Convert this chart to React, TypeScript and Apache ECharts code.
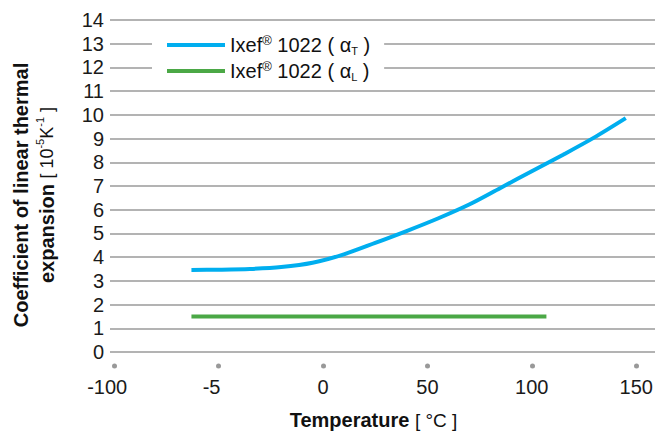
import React, { useEffect, useRef } from "react";
import * as echarts from "echarts";

const tempsT = [-63, -50, -35, -20, -5, 10, 25, 40, 55, 70, 85, 100, 115, 130, 145];
const alphaT = [3.46, 3.47, 3.5, 3.58, 3.76, 4.12, 4.6, 5.1, 5.63, 6.22, 6.92, 7.62, 8.32, 9.05, 9.86];
const tempsL = [-63, 107];
const alphaL = [1.5, 1.5];
const xTickValues = [-100, -50, 0, 50, 100, 150];
const xTickLabels = ["-100", "-5", "0", "50", "100", "150"];
const seriesNames = ["Ixef® 1022 (αT)", "Ixef® 1022 (αL)"];

const FONT = "'Liberation Sans', Arial, Helvetica, sans-serif";

export default function App() {
  const ref = useRef<HTMLDivElement>(null);
  useEffect(() => {
    if (!ref.current) return;
    const chart = echarts.init(ref.current, undefined, { renderer: "svg" });
    const option = {
      animation: false,
      backgroundColor: "#ffffff",
      textStyle: { fontFamily: FONT },
      grid: { left: 110, right: 15, top: 20, bottom: 76.5, containLabel: false },
      legend: {
        left: 152,
        top: 28,
        orient: "vertical",
        backgroundColor: "#ffffff",
        padding: [6, 14, 6, 15],
        itemGap: 4,
        itemWidth: 58,
        itemHeight: 4,
        icon: "rect",
        data: seriesNames,
        formatter: (name: string) =>
          name === seriesNames[0]
            ? "{a|Ixef}{r|®}{a| 1022 ( α}{s|T}{a| )}"
            : "{a|Ixef}{r|®}{a| 1022 ( α}{s|L}{a| )}",
        textStyle: {
          fontFamily: FONT,
          color: "#111",
          rich: {
            a: { fontSize: 20, lineHeight: 22, color: "#111", fontFamily: FONT },
            r: { fontSize: 13, lineHeight: 13, verticalAlign: "top", color: "#111", fontFamily: FONT },
            s: { fontSize: 11, lineHeight: 9, verticalAlign: "bottom", color: "#111", fontFamily: FONT },
          },
        },
      },
      xAxis: {
        type: "value",
        min: -102,
        max: 159,
        axisLine: { show: false },
        splitLine: { show: false },
        axisTick: {
          show: true,
          customValues: xTickValues,
          length: 17,
          lineStyle: { color: "#999", width: 5, cap: "round", type: [0.01, 40], dashOffset: 26.01 },
        },
        axisLabel: {
          customValues: xTickValues,
          formatter: (v: number) => {
            const i = xTickValues.indexOf(v);
            if (i < 0) return "";
            return v < 0 ? "{neg|" + xTickLabels[i] + "}" : xTickLabels[i];
          },
          fontSize: 20,
          color: "#1a1a1a",
          fontFamily: FONT,
          margin: 25,
          rich: {
            neg: { fontSize: 20, color: "#1a1a1a", fontFamily: FONT, padding: [0, 14, 0, 0] },
          },
        },
        name: "{b|Temperature }{n|[ °C ]}",
        nameLocation: "middle",
        nameGap: 58,
        nameTextStyle: {
          padding: [0, 18, 0, 0],
          rich: {
            b: { fontSize: 20, fontWeight: "bold", color: "#111", fontFamily: FONT },
            n: { fontSize: 19, color: "#111", fontFamily: FONT },
          },
        },
      },
      yAxis: {
        type: "value",
        min: 0,
        max: 14,
        interval: 1,
        axisLine: { show: false },
        axisTick: { show: false },
        splitLine: { show: true, lineStyle: { color: "#9a9a9a", width: 1.5 } },
        axisLabel: { fontSize: 20, color: "#1a1a1a", fontFamily: FONT, margin: 6 },
        name:
          "{b|Coefficient of linear thermal}\n{b|expansion }{n|[ 10}{sup|-5}{n|K}{sup|-1}{n| ]}",
        nameLocation: "middle",
        nameGap: 50,
        nameTextStyle: {
          padding: [0, 18, 0, 0],
          rich: {
            b: { fontSize: 20, fontWeight: "bold", lineHeight: 26, color: "#111", fontFamily: FONT },
            n: { fontSize: 18, lineHeight: 26, color: "#111", fontFamily: FONT },
            sup: { fontSize: 11, lineHeight: 16, verticalAlign: "top", color: "#111", fontFamily: FONT },
          },
        },
      },
      series: [
        {
          name: seriesNames[0],
          type: "line",
          data: tempsT.map((t, i) => [t, alphaT[i]]),
          smooth: 0.3,
          symbol: "none",
          lineStyle: { color: "#00aeef", width: 4 },
          itemStyle: { color: "#00aeef" },
        },
        {
          name: seriesNames[1],
          type: "line",
          data: tempsL.map((t, i) => [t, alphaL[i]]),
          symbol: "none",
          lineStyle: { color: "#4ba846", width: 4 },
          itemStyle: { color: "#4ba846" },
        },
      ],
    };
    chart.setOption(option as any);
    return () => chart.dispose();
  }, []);
  return (
    <div
      ref={ref}
      style={{ position: "absolute", left: 0, top: 0, width: 670, height: 435 }}
    />
  );
}
